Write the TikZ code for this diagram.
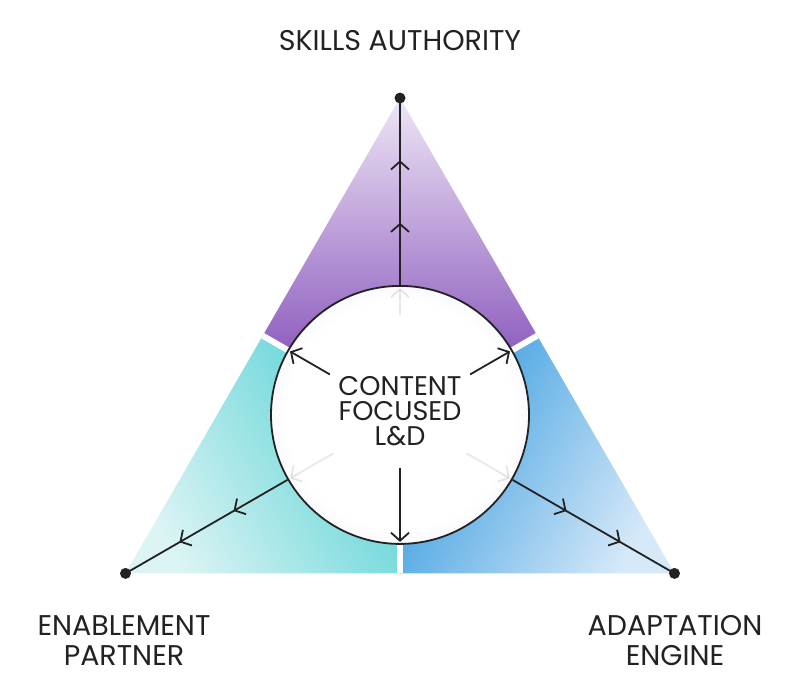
\documentclass[tikz,border=0pt]{standalone}
\usepackage{fontspec}
\setmainfont{Poppins}
\usetikzlibrary{arrows.meta,decorations.markings,calc}
\definecolor{ink}{HTML}{222222}
\definecolor{purpL}{HTML}{EEE6F6}
\definecolor{purpD}{HTML}{783EB2}
\definecolor{tealL}{HTML}{DDF4F4}
\definecolor{tealD}{HTML}{58D2D5}
\definecolor{blueL}{HTML}{D6E9F8}
\definecolor{blueD}{HTML}{369BDF}
\definecolor{glowedge}{HTML}{CFC7E7}
\pgfdeclareradialshading{hubglow}{\pgfpoint{0bp}{0bp}}{color(0bp)=(white); color(22bp)=(white); color(50bp)=(glowedge)}
\tikzset{
  flow/.style={draw=ink, line width=1.8pt},
  chev/.style={flow, postaction={decorate}, decoration={markings,
     mark=at position 0.333 with {\arrow{Straight Barb[length=8pt,width=18pt,line width=1.8pt]}},
     mark=at position 0.667 with {\arrow{Straight Barb[length=8pt,width=18pt,line width=1.8pt]}}}},
  inarrow/.style={flow, -{Straight Barb[length=8pt,width=18pt]}},
  faint/.style={draw=ink, draw opacity=0.1, line width=1.8pt, -{Straight Barb[length=8pt,width=18pt]}},
  dot/.style={circle, fill=ink, inner sep=0pt, minimum size=11pt},
  gap/.style={draw=white, line width=6pt},
  lab/.style={text=ink, font=\fontsize{28.5}{30}\selectfont, align=center, inner sep=0pt},
  hubtext/.style={text=ink, font=\fontsize{27}{25}\selectfont, align=center, inner sep=0pt}
}
\begin{document}
\begin{tikzpicture}[x=1pt,y=1pt]
\useasboundingbox (0,0) rectangle (800,-697);
\fill[white] (0,0) rectangle (800,-697);
\coordinate (A) at (400,-98);
\coordinate (BL) at (125.5,-573.4);
\coordinate (BR) at (674.5,-573.4);
\coordinate (G) at (400,-414.9);
\coordinate (ML) at (262.75,-335.7);
\coordinate (MR) at (537.25,-335.7);
\coordinate (MB) at (400,-573.4);
% coloured sectors
\shade[top color=purpL, bottom color=purpD] (A) -- (MR) -- (G) -- (ML) -- cycle;
\shade[bottom color=tealL, top color=tealD, shading angle=-60] (BL) -- (ML) -- (G) -- (MB) -- cycle;
\shade[bottom color=blueD, top color=blueL, shading angle=-120] (BR) -- (MB) -- (G) -- (MR) -- cycle;
\draw[gap] (G) -- (ML);
\draw[gap] (G) -- (MR);
\draw[gap] (G) -- (MB);
% hub
\node[circle, draw=ink, line width=1.8pt, shading=hubglow, minimum size=258pt, inner sep=0pt] (hub) at (G) {};
\node[hubtext] (ht) at (400,-411) {CONTENT\\FOCUSED\\L\&D};
% vertex dots
\node[dot] (dA) at (A) {};
\node[dot] (dBL) at (BL) {};
\node[dot] (dBR) at (BR) {};
% outward lines
\draw[chev] (hub.90) -- (dA.center);
\draw[chev] (hub.210) -- (dBL.center);
\draw[chev] (hub.330) -- (dBR.center);
% inner arrows
\draw[inarrow] ($(hub.center)+(150:81)$) -- ($(hub.center)+(150:127)$);
\draw[inarrow] ($(hub.center)+(30:81)$) -- ($(hub.center)+(30:127)$);
\draw[inarrow] ($(hub.center)+(270:53)$) -- ($(hub.center)+(270:127)$);
\draw[faint] ($(hub.center)+(210:77)$) -- ($(hub.center)+(210:127)$);
\draw[faint] ($(hub.center)+(330:77)$) -- ($(hub.center)+(330:127)$);
\draw[faint] ($(hub.center)+(90:100)$) -- ($(hub.center)+(90:127)$);
% labels
\node[lab] (la) at (400,-41) {SKILLS AUTHORITY};
\node[lab] (lb) at (124,-641) {ENABLEMENT\\PARTNER};
\node[lab] (lc) at (675,-641) {ADAPTATION\\ENGINE};
\end{tikzpicture}
\end{document}
